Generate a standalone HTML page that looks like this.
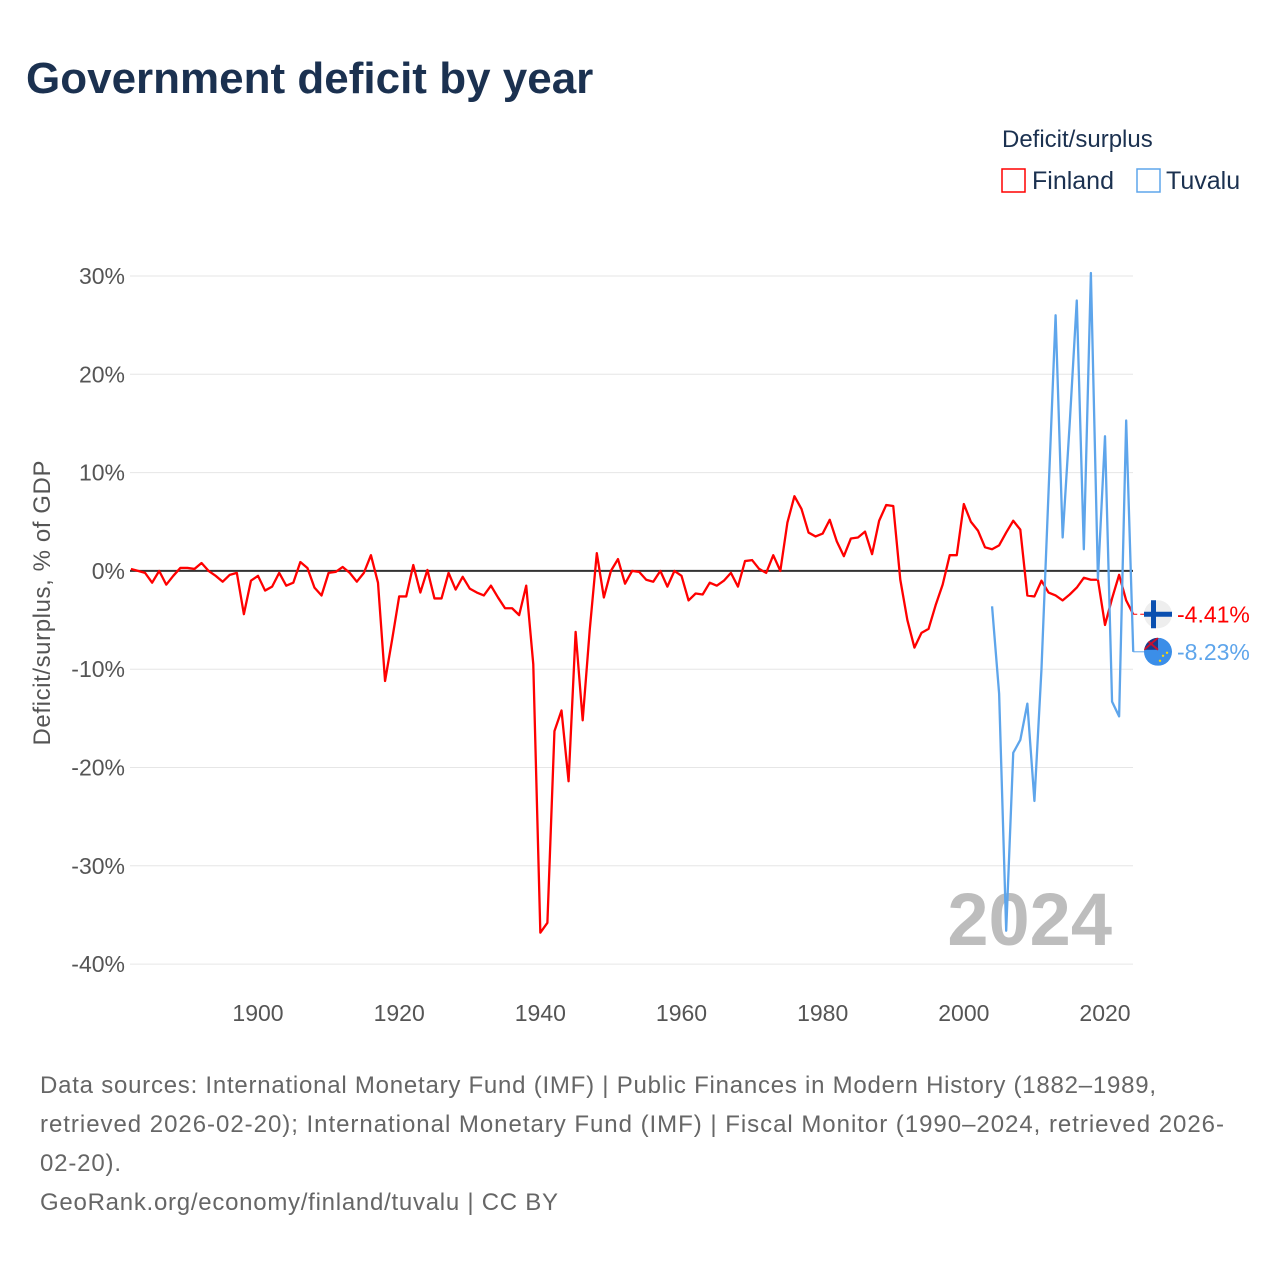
<!DOCTYPE html>
<html><head><meta charset="utf-8">
<style>
body{margin:0;background:#fff;font-family:"Liberation Sans",sans-serif;}
#wrap{position:relative;width:1280px;height:1280px;overflow:hidden;}
</style></head>
<body>
<div id="wrap">
<svg id="chart" width="1280" height="1280">
<defs><clipPath id="tvclip"><circle cx="0" cy="0" r="14"/></clipPath></defs>
<text x="26" y="93" font-size="44" font-weight="bold" fill="#1b3150">Government deficit by year</text>
<g>
<text x="1002" y="147" font-size="24" fill="#1b3150">Deficit/surplus</text>
<g>
<rect x="1002" y="169" width="23" height="23" fill="none" stroke="#f00" stroke-width="1.5"/>
<text x="1032" y="189" font-size="25" fill="#1b3150">Finland</text></g>
<g>
<rect x="1137" y="169" width="23" height="23" fill="none" stroke="#5ea5eb" stroke-width="1.5"/>
<text x="1166" y="189" font-size="25" fill="#1b3150">Tuvalu</text></g>
</g>
<text transform="translate(50,603) rotate(-90)" text-anchor="middle" font-size="24" textLength="285" fill="#555">Deficit/surplus, % of GDP</text>
<g id="grid"></g>
<text x="1112" y="945" text-anchor="end" font-size="74" font-weight="bold" fill="#bdbdbd">2024</text>
<g id="series"></g>
<g id="labels"></g>
<g font-size="24" fill="#666">
<text x="40" y="1093" textLength="1116">Data sources: International Monetary Fund (IMF) | Public Finances in Modern History (1882–1989,</text>
<text x="40" y="1132" textLength="1184">retrieved 2026-02-20); International Monetary Fund (IMF) | Fiscal Monitor (1990–2024, retrieved 2026-</text>
<text x="40" y="1171" textLength="81">02-20).</text>
<text x="40" y="1210" textLength="518">GeoRank.org/economy/finland/tuvalu | CC BY</text>
</g>
</svg>
</div>
<script>
const yTicks=[30,20,10,0,-10,-20,-30,-40];
const xTicks=[1900,1920,1940,1960,1980,2000,2020];
const finlandStart=1882;
const finland=[0.2,0,-0.2,-1.2,0,-1.4,-0.5,0.3,0.3,0.2,0.8,0,-0.5,-1.1,-0.4,-0.2,-4.4,-1.0,-0.5,-2.0,-1.6,-0.2,-1.5,-1.2,0.9,0.3,-1.7,-2.5,-0.2,-0.1,0.4,-0.2,-1.1,-0.2,1.6,-1.2,-11.2,-7,-2.6,-2.6,0.6,-2.2,0.1,-2.8,-2.8,-0.2,-1.9,-0.6,-1.8,-2.2,-2.5,-1.5,-2.7,-3.8,-3.8,-4.5,-1.5,-9.5,-36.8,-35.8,-16.3,-14.2,-21.4,-6.2,-15.2,-6,1.8,-2.7,0,1.2,-1.3,0,-0.1,-0.9,-1.1,0,-1.6,0,-0.5,-3.0,-2.3,-2.4,-1.2,-1.5,-1.0,-0.2,-1.6,1.0,1.1,0.2,-0.2,1.6,0,4.9,7.6,6.3,3.9,3.5,3.8,5.2,3.0,1.5,3.3,3.4,4.0,1.7,5.1,6.7,6.6,-0.9,-5.0,-7.8,-6.3,-5.9,-3.5,-1.4,1.6,1.6,6.8,5.0,4.1,2.4,2.2,2.6,3.9,5.1,4.2,-2.5,-2.6,-1.0,-2.2,-2.5,-3.0,-2.4,-1.7,-0.7,-0.9,-0.9,-5.5,-2.8,-0.4,-3.0,-4.41];
const tuvaluStart=2004;
const tuvalu=[-3.6,-12.5,-36.6,-18.5,-17.2,-13.5,-23.4,-10,8,26.0,3.4,15,27.5,2.2,30.3,-0.8,13.7,-13.3,-14.8,15.3,-8.23];
const X=y=>258+(y-1900)*(847/120);
const Y=v=>570.9-v*9.83;
const NS="http://www.w3.org/2000/svg";
function mk(t,a,p){const e=document.createElementNS(NS,t);for(const k in a)e.setAttribute(k,a[k]);p.appendChild(e);return e;}
const grid=document.getElementById('grid');
yTicks.forEach(v=>{
 if(v!==0){const l=mk('line',{x1:130,x2:1133,y1:Y(v),y2:Y(v),stroke:'#e6e6e6','stroke-width':1},grid);
 
 }
 const t=mk('text',{x:125,y:Y(v)+8,'text-anchor':'end','font-size':23,fill:'#555'},grid);
 t.textContent=v+'%';
 
 
});
xTicks.forEach(y=>{
 const t=mk('text',{x:X(y),y:1021,'text-anchor':'middle','font-size':23,fill:'#555'},grid);
 t.textContent=y;
 
 
});
const s=document.getElementById('series');
const fin=mk('polyline',{points:finland.map((v,i)=>X(finlandStart+i)+','+Y(v)).join(' '),fill:'none',stroke:'#f00','stroke-width':2.3,'stroke-linejoin':'round'},s);


const zl=mk('line',{x1:130,x2:1133,y1:Y(0),y2:Y(0),stroke:'#333','stroke-width':2},s);


s.insertBefore(zl,fin);
const tuv=mk('polyline',{points:tuvalu.map((v,i)=>X(tuvaluStart+i)+','+Y(v)).join(' '),fill:'none',stroke:'#5ea5eb','stroke-width':2.3,'stroke-linejoin':'round'},s);


const lab=document.getElementById('labels');
const fy=Y(finland[finland.length-1]),ty=Y(tuvalu[tuvalu.length-1]);
const ex=X(2024);
const c1=mk('line',{x1:ex,x2:1146,y1:fy,y2:fy,stroke:'#f00','stroke-width':1,'stroke-dasharray':'4 3'},lab);


const c2=mk('line',{x1:ex,x2:1146,y1:ty,y2:ty,stroke:'#5ea5eb','stroke-width':1},lab);


const g1=mk('g',{},lab);


mk('circle',{cx:1158,cy:fy,r:14,fill:'#eee'},g1);
mk('rect',{x:1144,y:fy-2.5,width:28,height:5,fill:'#0a4fb0'},g1);
mk('rect',{x:1151,y:fy-14,width:5,height:28,fill:'#0a4fb0'},g1);
const g2=mk('g',{transform:'translate(1158,'+ty+')','clip-path':'url(#tvclip)'},lab);


mk('rect',{x:-14,y:-14,width:28,height:28,fill:'#3b8ee8'},g2);
mk('rect',{x:-14,y:-14,width:14,height:12,fill:'#1a3a8a'},g2);
mk('path',{d:'M-14,-14L0,-2M0,-14L-14,-2',stroke:'#c8102e','stroke-width':2},g2);
mk('circle',{cx:5,cy:4,r:1.2,fill:'#ffd700'},g2);
mk('circle',{cx:9,cy:1,r:1.2,fill:'#ffd700'},g2);
mk('circle',{cx:2,cy:9,r:1.2,fill:'#ffd700'},g2);
const t1=mk('text',{x:1177,y:fy+8,'font-size':23,fill:'#f00'},lab);
t1.textContent=finland[finland.length-1].toFixed(2)+'%';


const t2=mk('text',{x:1177,y:ty+8,'font-size':23,fill:'#5ea5eb'},lab);
t2.textContent=tuvalu[tuvalu.length-1].toFixed(2)+'%';


</script>
</body></html>
